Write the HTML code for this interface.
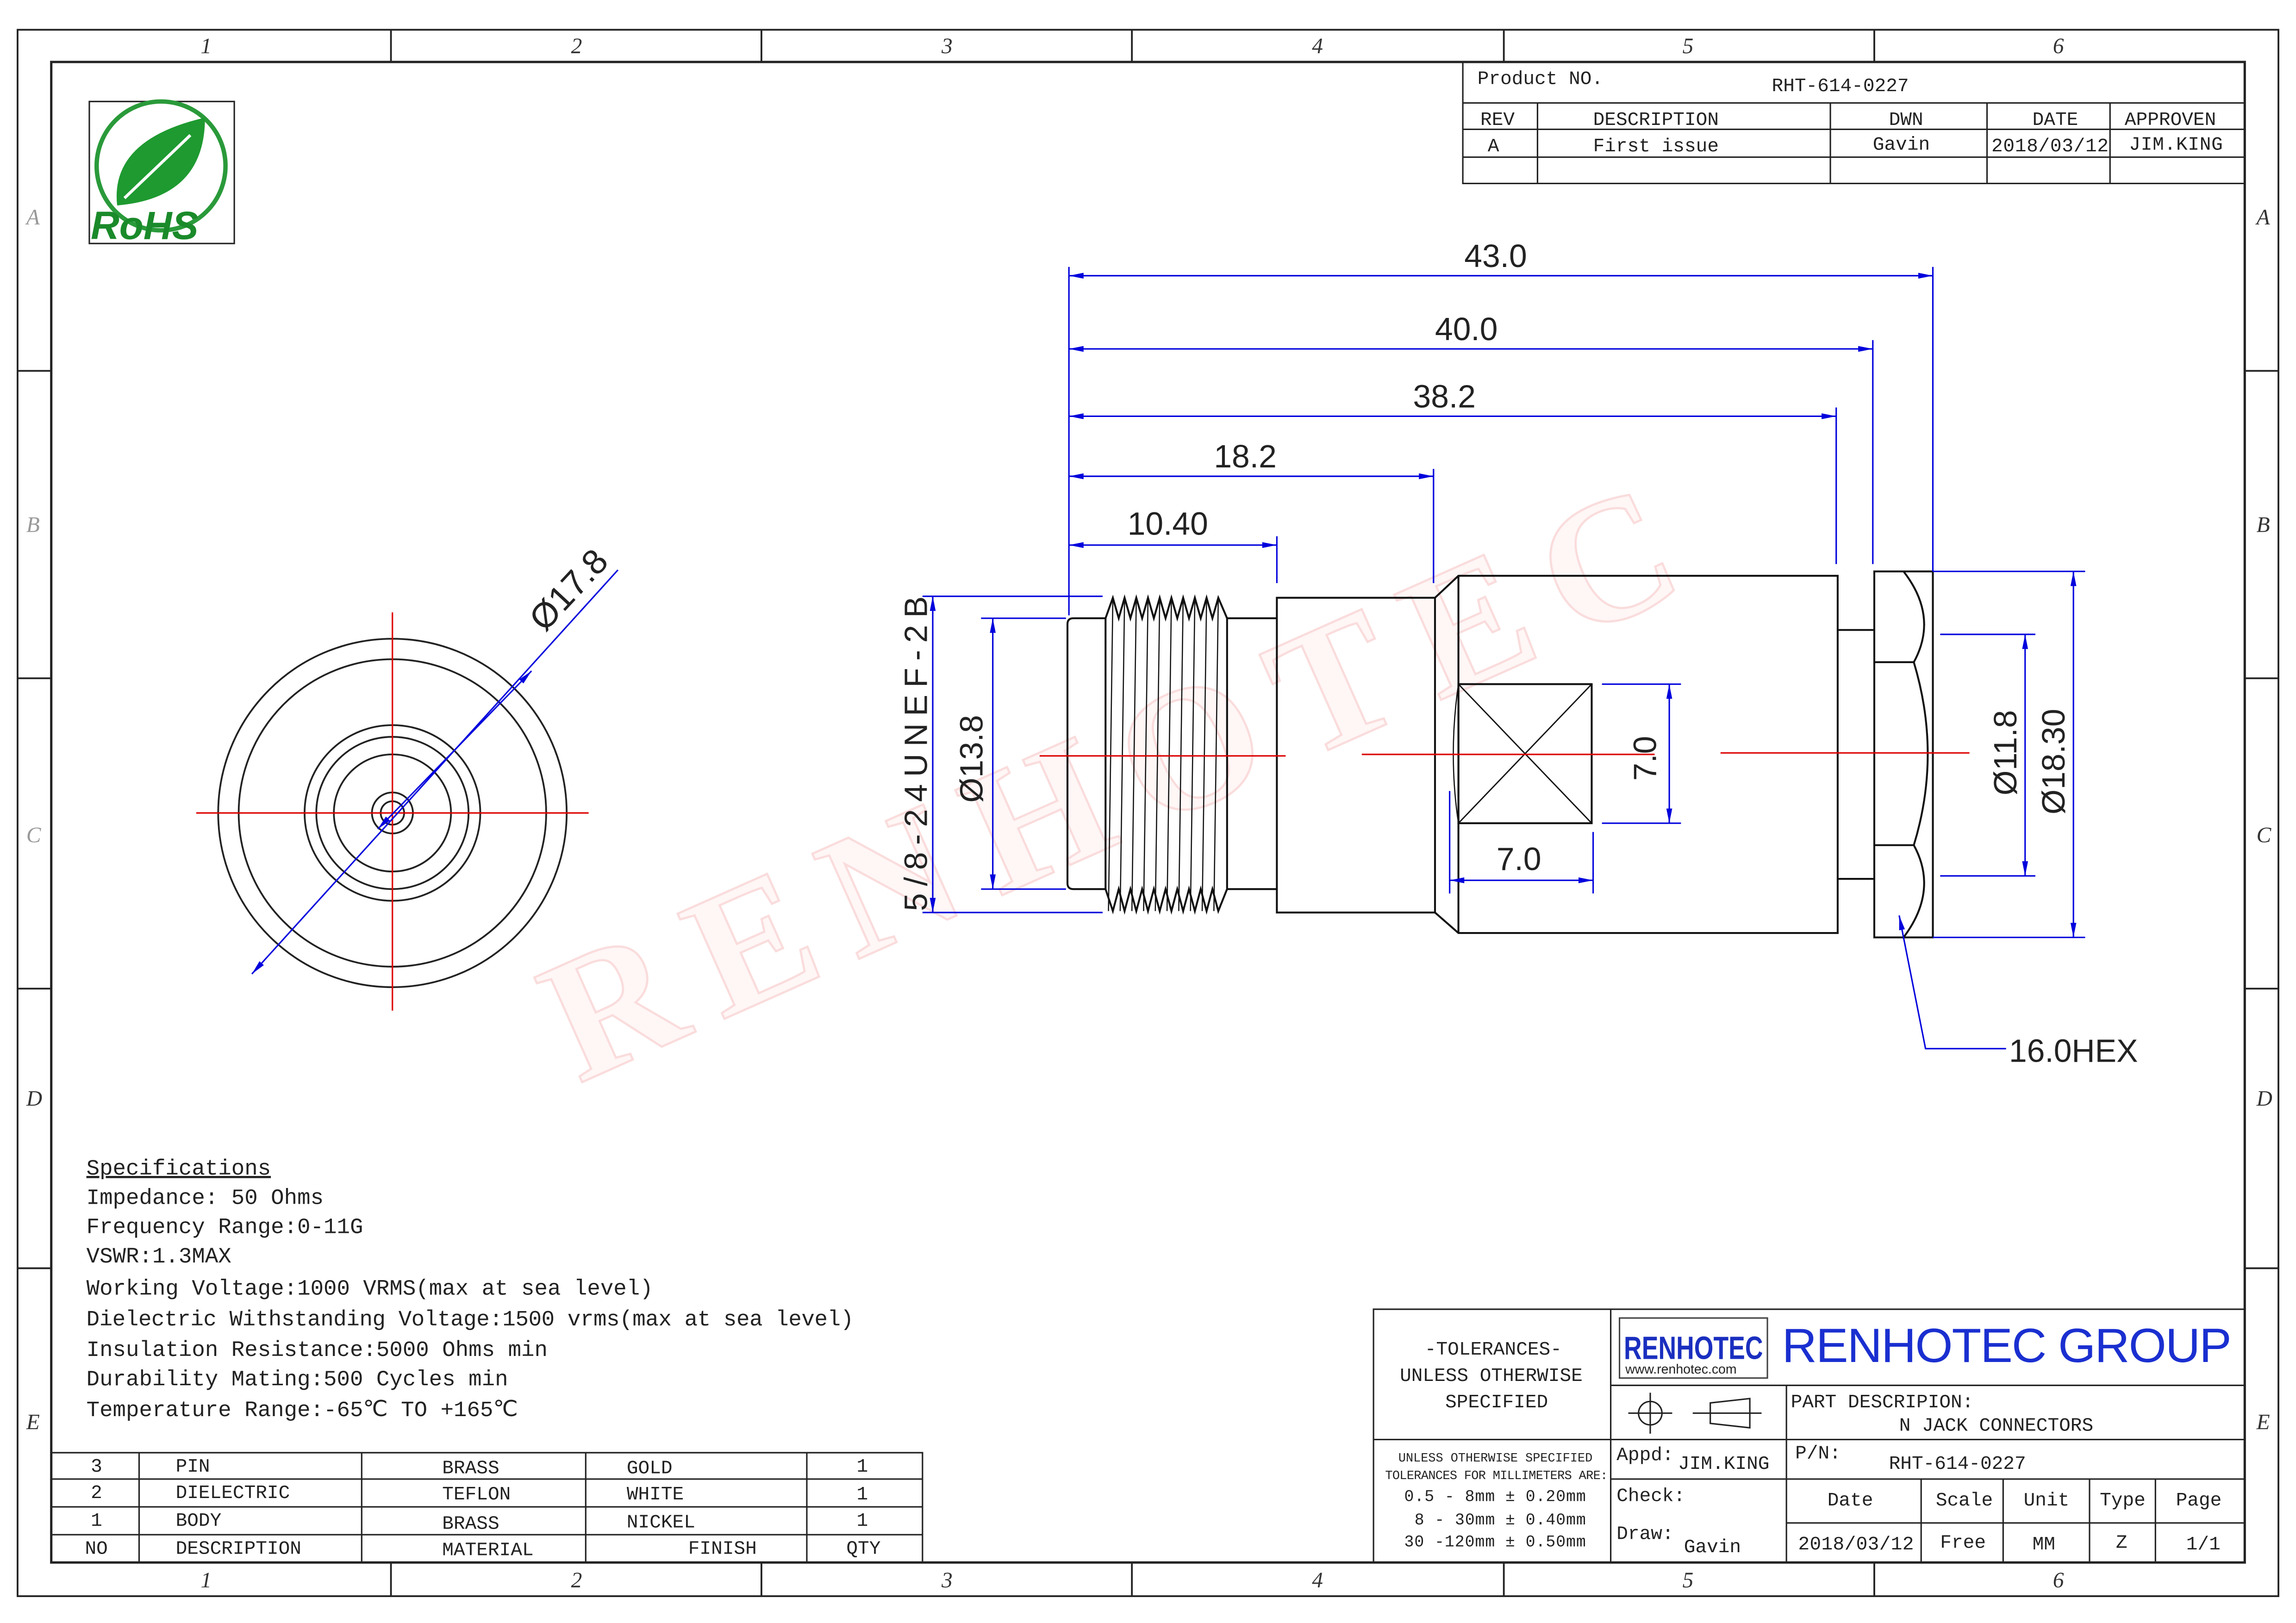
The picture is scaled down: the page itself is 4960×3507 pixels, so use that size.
<!DOCTYPE html>
<html><head><meta charset="utf-8"><style>
html,body{margin:0;padding:0;background:#fff}
svg{display:block;font-family:"Liberation Serif",serif}
.s,.s text{font-family:"Liberation Sans","DejaVu Sans",sans-serif}
.m,.m text{font-family:"Liberation Mono",monospace}
</style></head><body>
<svg width="4960" height="3507" viewBox="0 0 1568 1108" xmlns="http://www.w3.org/2000/svg" fill="#222">
<defs>
<marker id="a" viewBox="0 0 10 4" refX="10" refY="2" markerWidth="10" markerHeight="4" markerUnits="userSpaceOnUse" orient="auto-start-reverse"><path d="M0,0L10,2L0,4z" fill="#0000dd"/></marker>
</defs>
<rect width="1568" height="1108" fill="#fff"/>
<!-- watermark -->
<text x="395" y="740" transform="rotate(-24 395 740)" font-size="120" font-weight="bold" fill="#fff6f6" stroke="#fadcdc" stroke-width="1.5" textLength="830">RENHOTEC</text>
<!-- frames -->
<g fill="none" stroke="#222" stroke-width="1.2">
<rect x="12" y="20" width="1544" height="1070"/>
<rect x="35" y="42" width="1498" height="1025" stroke-width="1.6"/>
<path d="M267 20V42M520 20V42M773 20V42M1027 20V42M1280 20V42M267 1067V1090M520 1067V1090M773 1067V1090M1027 1067V1090M1280 1067V1090M12 253H35M12 463H35M12 675H35M12 866H35M1533 253H1556M1533 463H1556M1533 675H1556M1533 866H1556"/>
</g>
<g font-size="15" fill="#333" font-style="italic">
<text x="137" y="36">1</text><text x="390" y="36">2</text><text x="643" y="36">3</text><text x="896" y="36">4</text><text x="1149" y="36">5</text><text x="1402" y="36">6</text>
<text x="137" y="1084">1</text><text x="390" y="1084">2</text><text x="643" y="1084">3</text><text x="896" y="1084">4</text><text x="1149" y="1084">5</text><text x="1402" y="1084">6</text>
<text x="18" y="153" fill="#999">A</text><text x="18" y="363" fill="#999">B</text><text x="18" y="575" fill="#999">C</text><text x="18" y="755">D</text><text x="18" y="976">E</text>
<text x="1541" y="153">A</text><text x="1541" y="363">B</text><text x="1541" y="575">C</text><text x="1541" y="755">D</text><text x="1541" y="976">E</text>
</g>
<!-- top title block -->
<g fill="none" stroke="#222" stroke-width="1">
<path d="M999 42V125H1533M999 70H1533M999 88H1533M999 107H1533M1050 70V125M1250 70V125M1357 70V125M1441 70V125"/>
</g>
<g font-size="13" class="m">
<text x="1009" y="57">Product NO.</text><text x="1210" y="62">RHT-614-0227</text>
<text x="1011" y="85">REV</text><text x="1088" y="85">DESCRIPTION</text><text x="1290" y="85">DWN</text><text x="1388" y="85">DATE</text><text x="1451" y="85">APPROVEN</text>
<text x="1016" y="103">A</text><text x="1088" y="103">First issue</text><text x="1279" y="102">Gavin</text><text x="1360" y="103" textLength="80">2018/03/12</text><text x="1454" y="102" textLength="64">JIM.KING</text>
</g>
<!-- RoHS -->
<rect x="61" y="69" width="99" height="97" fill="#fff" stroke="#222"/>
<circle cx="110" cy="113" r="44" fill="none" stroke="#2a9a3a" stroke-width="3"/>
<path d="M80 140 Q75 95 140 80 Q140 135 80 140z" fill="#1e9a30"/>
<path d="M85 135 L130 92" stroke="#fff" stroke-width="2"/>
<text x="62" y="163" font-size="27" font-weight="bold" font-style="italic" class="s" fill="#1a8a2a">RoHS</text>
<!-- left circular view -->
<g fill="none" stroke="#222" stroke-width="1.2">
<circle cx="268" cy="555" r="119"/><circle cx="268" cy="555" r="105"/><circle cx="268" cy="555" r="60"/><circle cx="268" cy="555" r="52"/><circle cx="268" cy="555" r="40"/><circle cx="268" cy="555" r="14"/><circle cx="268" cy="555" r="8"/>
</g>
<path d="M134 555H402M268 418V690" stroke="#d00" stroke-width="1"/>
<path d="M172 665L422 389" stroke="#0000dd" stroke-width="1" marker-start="url(#a)"/>
<path d="M258 566L363 458" stroke="#0000dd" stroke-width="1" marker-end="url(#a)" marker-start="url(#a)"/>
<text x="372" y="432" font-size="24" class="s" transform="rotate(-47 372 432)">Ø17.8</text>
<!-- connector -->
<g fill="none" stroke="#111" stroke-width="1.3">
<path d="M733 422H755V607H733Q729 607 729 603V426Q729 422 733 422z"/>
<path d="M755 422L760 408 764 422 768 408 772 422 776 408 780 422 784 408 788 422 792 408 796 422 800 408 804 422 808 408 812 422 816 408 820 422 824 408 828 422 832 408 838 422V607L832 622 828 607 824 622 820 607 816 622 812 607 808 622 804 607 800 622 796 607 792 622 788 607 784 622 780 607 776 622 772 607 768 622 764 607 760 622 755 607"/>
<path d="M760 408L757 622M768 408L765 622M776 408L773 622M784 408L781 622M792 408L789 622M800 408L797 622M808 408L805 622M816 408L813 622M824 408L821 622M832 408L829 622" stroke-width="0.8"/>
<path d="M838 422H872M838 607H872"/>
<rect x="872" y="408" width="108" height="215"/>
<path d="M980 408L996 393H1255V637H996L980 623M996 393V637"/>
<path d="M996 467Q989 515 996 562" stroke-width="0.8"/>
<rect x="996" y="467" width="91" height="95"/>
<path d="M996 467L1087 562M1087 467L996 562" stroke-width="0.9"/>
<path d="M1255 430H1280M1255 600H1280"/>
<rect x="1280" y="390" width="40" height="250"/>
<path d="M1280 452H1307M1280 577H1307"/>
<path d="M1300 390Q1324 421 1307 452Q1326 515 1307 577Q1324 608 1300 640"/>
</g>
<path d="M710 516H878M930 515H1130M1175 514H1345" stroke="#d00" stroke-width="1"/>
<!-- dimensions -->
<g stroke="#0000dd" stroke-width="1" fill="none">
<path d="M730 182V420M1320 182V390M1279 232V385M1254 278V385M979 320V398M872 366V398"/>
<path d="M730 188H1320" marker-start="url(#a)" marker-end="url(#a)"/>
<path d="M730 238H1279" marker-start="url(#a)" marker-end="url(#a)"/>
<path d="M730 284H1254" marker-start="url(#a)" marker-end="url(#a)"/>
<path d="M730 325H979" marker-start="url(#a)" marker-end="url(#a)"/>
<path d="M730 372H872" marker-start="url(#a)" marker-end="url(#a)"/>
<path d="M630 407H753M630 623H753M670 422H728M670 607H728"/>
<path d="M637 407V623" marker-start="url(#a)" marker-end="url(#a)"/>
<path d="M678 422V607" marker-start="url(#a)" marker-end="url(#a)"/>
<path d="M1094 467H1148M1094 562H1148"/>
<path d="M1140 467V562" marker-start="url(#a)" marker-end="url(#a)"/>
<path d="M990 540V610M1088 568V610"/>
<path d="M990 601H1088" marker-start="url(#a)" marker-end="url(#a)"/>
<path d="M1325 433H1390M1325 598H1390M1320 390H1424M1320 640H1424"/>
<path d="M1383 433V598" marker-start="url(#a)" marker-end="url(#a)"/>
<path d="M1416 390V640" marker-start="url(#a)" marker-end="url(#a)"/>
<path d="M1370 716H1315L1297 625" marker-end="url(#a)"/>
</g>
<g font-size="22" class="s">
<text x="1000" y="182">43.0</text>
<text x="980" y="232">40.0</text>
<text x="965" y="278">38.2</text>
<text x="829" y="319">18.2</text>
<text x="770" y="365">10.40</text>
<text x="1022" y="594">7.0</text>
<text x="1372" y="725">16.0HEX</text>
<text transform="translate(633 622) rotate(-90)" textLength="215">5/8-24UNEF-2B</text>
<text transform="translate(671 548) rotate(-90)">Ø13.8</text>
<text transform="translate(1131 533) rotate(-90)">7.0</text>
<text transform="translate(1377 543) rotate(-90)">Ø11.8</text>
<text transform="translate(1410 556) rotate(-90)">Ø18.30</text>
</g>
<!-- specs -->
<g font-size="15" class="m">
<text x="59" y="802" text-decoration="underline">Specifications</text>
<text x="59" y="822">Impedance: 50 Ohms</text>
<text x="59" y="842">Frequency Range:0-11G</text>
<text x="59" y="862">VSWR:1.3MAX</text>
<text x="59" y="884">Working Voltage:1000 VRMS(max at sea level)</text>
<text x="59" y="905" textLength="524">Dielectric Withstanding Voltage:1500 vrms(max at sea level)</text>
<text x="59" y="926">Insulation Resistance:5000 Ohms min</text>
<text x="59" y="946">Durability Mating:500 Cycles min</text>
<text x="59" y="967">Temperature Range:-65℃ TO +165℃</text>
</g>
<!-- BOM -->
<g fill="none" stroke="#222" stroke-width="1">
<path d="M35 992H630V1067M35 1010H630M35 1029H630M35 1048H630M95 992V1067M247 992V1067M400 992V1067M551 992V1067"/>
</g>
<g font-size="13" class="m">
<text x="62" y="1005">3</text><text x="120" y="1005">PIN</text><text x="302" y="1006">BRASS</text><text x="428" y="1006">GOLD</text><text x="585" y="1005">1</text>
<text x="62" y="1023">2</text><text x="120" y="1023">DIELECTRIC</text><text x="302" y="1024">TEFLON</text><text x="428" y="1024">WHITE</text><text x="585" y="1024">1</text>
<text x="62" y="1042">1</text><text x="120" y="1042">BODY</text><text x="302" y="1044">BRASS</text><text x="428" y="1043">NICKEL</text><text x="585" y="1042">1</text>
<text x="58" y="1061">NO</text><text x="120" y="1061">DESCRIPTION</text><text x="302" y="1062">MATERIAL</text><text x="470" y="1061">FINISH</text><text x="578" y="1061">QTY</text>
</g>
<!-- bottom title block -->
<g fill="none" stroke="#222" stroke-width="1">
<path d="M938 1067V894H1533M1100 894V1067M938 983H1100M1100 946H1533M1100 983H1533M1100 1010H1533M1220 946V1067M1220 1040H1533M1312 1010V1067M1368 1010V1067M1427 1010V1067M1472 1010V1067"/>
<rect x="1106" y="900" width="101" height="41" stroke="#444"/>
</g>
<text x="1109" y="928" font-size="22" font-weight="bold" class="s" fill="#1a2fbf" textLength="95" lengthAdjust="spacingAndGlyphs">RENHOTEC</text>
<text x="1110" y="938" font-size="9" class="s">www.renhotec.com</text>
<text x="1217" y="930" font-size="33" class="s" fill="#1a2fd0" textLength="307">RENHOTEC GROUP</text>
<g font-size="13" class="m">
<text x="973" y="925">-TOLERANCES-</text><text x="956" y="943">UNLESS OTHERWISE</text><text x="987" y="961">SPECIFIED</text>
<text x="955" y="998" font-size="8.5">UNLESS OTHERWISE SPECIFIED</text><text x="946" y="1010" font-size="8.5" textLength="152">TOLERANCES FOR MILLIMETERS ARE:</text>
<text x="959" y="1025" font-size="11" textLength="124">0.5 - 8mm ± 0.20mm</text><text x="966" y="1041" font-size="11" textLength="117">8 - 30mm ± 0.40mm</text><text x="959" y="1056" font-size="11" textLength="124">30 -120mm ± 0.50mm</text>
<text x="1223" y="961">PART DESCRIPION:</text><text x="1297" y="977">N JACK CONNECTORS</text>
<text x="1104" y="997">Appd:</text><text x="1146" y="1003">JIM.KING</text>
<text x="1226" y="996">P/N:</text><text x="1290" y="1003">RHT-614-0227</text>
<text x="1104" y="1025">Check:</text><text x="1104" y="1051">Draw:</text><text x="1150" y="1060">Gavin</text>
<text x="1248" y="1028">Date</text><text x="1322" y="1028">Scale</text><text x="1382" y="1028">Unit</text><text x="1434" y="1028">Type</text><text x="1486" y="1028">Page</text>
<text x="1228" y="1058" textLength="79">2018/03/12</text><text x="1325" y="1057">Free</text><text x="1388" y="1058">MM</text><text x="1445" y="1057">Z</text><text x="1493" y="1058">1/1</text>
</g>
<g fill="none" stroke="#222" stroke-width="1">
<circle cx="1127" cy="965" r="8"/><path d="M1112 965H1142M1127 951V979"/>
<path d="M1156 965H1203M1168 958L1195 955V975L1168 972Z"/>
</g>
</svg>
</body></html>
